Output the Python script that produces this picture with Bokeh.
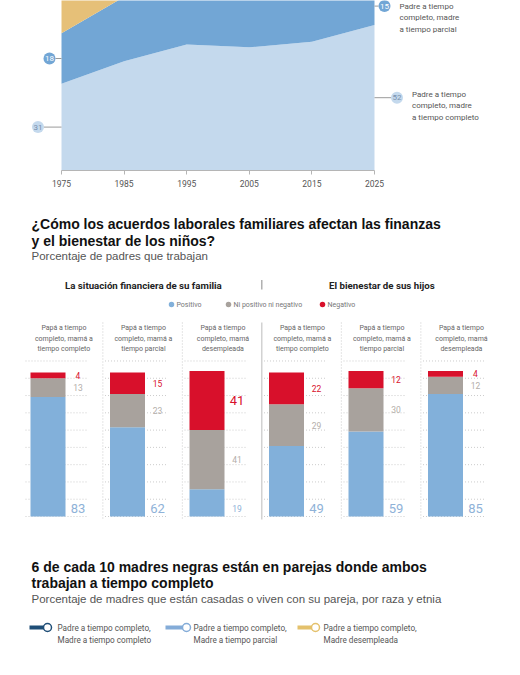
from bokeh.plotting import figure
from bokeh.layouts import column
from bokeh.models import Range1d, FixedTicker
from bokeh.core.properties import value
from bokeh.embed import file_html
from bokeh.resources import INLINE

# ---------------- data ----------------
years = [1975, 1985, 1995, 2005, 2015, 2025]
ft_ft = [31, 39, 45, 44, 46, 52]        # padre t. completo, madre t. completo
ft_pt = [18, 23, 20, 21, 20, 15]        # padre t. completo, madre t. parcial
ft_un = [45, 30, 26, 25, 24, 21]        # padre t. completo, madre desempleada
area_names = [("Padre a tiempo", "completo, madre", "a tiempo completo"),
              ("Padre a tiempo", "completo, madre", "a tiempo parcial")]

title2 = ["¿Cómo los acuerdos laborales familiares afectan las finanzas",
          "y el bienestar de los niños?"]
subtitle2 = "Porcentaje de padres que trabajan"
panels = ["La situación financiera de su familia", "El bienestar de sus hijos"]
legend2 = ["Positivo", "Ni positivo ni negativo", "Negativo"]
arrangements = [("Papá a tiempo", "completo, mamá a", "tiempo completo"),
                ("Papá a tiempo", "completo, mamá a", "tiempo parcial"),
                ("Papá a tiempo", "completo, mamá", "desempleada")]
finance_pos = [83, 62, 19]
finance_neu = [13, 23, 41]
finance_neg = [4, 15, 41]
kids_pos = [49, 59, 85]
kids_neu = [29, 30, 12]
kids_neg = [22, 12, 4]
grid_vals = [0, 12, 24, 36, 48, 60, 72, 84, 96, 108]

title3 = ["6 de cada 10 madres negras están en parejas donde ambos",
          "trabajan a tiempo completo"]
subtitle3 = "Porcentaje de madres que están casadas o viven con su pareja, por raza y etnia"
legend3 = [("Padre a tiempo completo,", "Madre a tiempo completo"),
           ("Padre a tiempo completo,", "Madre a tiempo parcial"),
           ("Padre a tiempo completo,", "Madre desempleada")]

# ---------------- styles ----------------
NARROW = "Roboto"
SANS = "Liberation Sans"
C_LIGHT = "#c4d9ed"
C_MID = "#72a6d5"
C_YEL = "#e6c078"
C_POS = "#82b0da"
C_NEU = "#a8a29d"
C_NEG = "#d8102b"
L3_COLORS = ["#1f4e77", "#84acd8", "#e4c16c"]


def txt(p, x, y, s, size, color="#555555", font=NARROW, style="normal",
        align="left", baseline="middle"):
    p.text(x=[x], y=[y], text=[s], text_font=value(font), text_font_size=size,
           text_font_style=style, text_color=color, text_align=align,
           text_baseline=baseline)


W = 504

# ================= figure 1 : stacked area =================
ppy = (374 - 61) / 50.0
x1s = 1975 - 61 / ppy
x1e = x1s + W / ppy
ppu1 = 2.8
H1, B1 = 200, 30
y1e = (H1 - B1) / ppu1


def X1(px):
    return x1s + px / ppy


p1 = figure(width=W, height=H1, x_range=Range1d(x1s, x1e), y_range=Range1d(0, y1e),
            output_backend="svg", toolbar_location=None, y_axis_location=None,
            min_border_left=0, min_border_right=0, min_border_top=0,
            min_border_bottom=B1, outline_line_color=None)
p1.grid.visible = False

c1 = [a + b for a, b in zip(ft_ft, ft_pt)]
c2 = [a + b for a, b in zip(c1, ft_un)]
p1.varea(x=years, y1=[0] * len(years), y2=ft_ft, fill_color=C_LIGHT)
p1.varea(x=years, y1=ft_ft, y2=c1, fill_color=C_MID)
p1.varea(x=years, y1=c1, y2=c2, fill_color=C_YEL)

ax = p1.xaxis[0]
ax.ticker = FixedTicker(ticks=years)
ax.bounds = (years[0], years[-1])
ax.axis_line_color = "#b5b5b5"
ax.major_tick_line_color = "#b5b5b5"
ax.major_tick_out = 4
ax.major_tick_in = 0
ax.minor_tick_line_color = None
ax.major_label_text_font = NARROW
ax.major_label_text_font_size = "8.5px"
ax.major_label_text_color = "#555555"
ax.major_label_standoff = 5

# value bubbles
y_ff0 = ft_ft[0] / 2.0
y_pt0 = ft_ft[0] + ft_pt[0] / 2.0
y_ff1 = ft_ft[-1] / 2.0
y_pt1 = min(ft_ft[-1] + ft_pt[-1] / 2.0, y1e - 2)
bubbles = [
    (X1(37.5), y_ff0, ft_ft[0], C_LIGHT, "#7890ad", years[0], X1(43.5)),
    (X1(49), y_pt0, ft_pt[0], C_MID, "white", years[0], X1(55)),
    (X1(384), y_pt1, ft_pt[-1], C_MID, "white", years[-1], X1(378)),
    (X1(396.5), y_ff1, ft_ft[-1], C_LIGHT, "#7890ad", years[-1], X1(390.5)),
]
for bx, by, v, fc, tc, x0, xe in bubbles:
    p1.segment(x0=[x0], y0=[by], x1=[xe], y1=[by], line_color="#9a9a9a", line_width=1)
    p1.scatter(x=[bx], y=[by], size=12, fill_color=fc, line_color=None)
    txt(p1, bx, by, str(v), "8px", color=tc, align="center")

lh1 = 11.7 / ppu1
for i, ln in enumerate(area_names[1]):
    txt(p1, X1(399), y_pt1 - i * lh1, ln, "8px")
for i, ln in enumerate(area_names[0]):
    txt(p1, X1(411.5), y_ff1 + 1.3 - i * lh1, ln, "8px")

# ================= figure 2 : stacked bars =================
cw = 79.5
ppu2 = 1.44
H2 = 345
BX0 = 47.5


def X2(px):
    return (px - BX0) / cw


def Y2(py):
    return (516 - py) / ppu2


p2 = figure(width=W, height=H2, x_range=Range1d(X2(0), X2(W)),
            y_range=Range1d(Y2(200 + H2), Y2(200)), output_backend="svg",
            toolbar_location=None, x_axis_location=None, y_axis_location=None,
            min_border=0, outline_line_color=None)
p2.grid.visible = False

pos = finance_pos + kids_pos
neu = finance_neu + kids_neu
neg = finance_neg + kids_neg
xs = list(range(len(pos)))
heads = arrangements + arrangements

# dotted grid per column
gx0, gx1, gy = [], [], []
for i in xs:
    for g in grid_vals:
        gx0.append(i - 0.283)
        gx1.append(i + 0.51)
        gy.append(g)
p2.segment(x0=gx0, y0=gy, x1=gx1, y1=gy, line_color="#cccccc", line_width=1,
           line_dash="1 2")

# column separators
for i in xs[:-1]:
    mid = (i == 2)
    p2.segment(x0=[i + 0.69], y0=[Y2(322)], x1=[i + 0.69], y1=[Y2(519)],
               line_color="#bbbbbb" if mid else "#cccccc", line_width=1,
               line_dash="solid" if mid else "1 2")

b_neu = pos
t_neu = [a + b for a, b in zip(pos, neu)]
t_neg = [a + b for a, b in zip(t_neu, neg)]
bw = 35 / cw
p2.vbar(x=xs, width=bw, bottom=0, top=pos, fill_color=C_POS, line_color=None)
p2.vbar(x=xs, width=bw, bottom=b_neu, top=t_neu, fill_color=C_NEU, line_color=None)
p2.vbar(x=xs, width=bw, bottom=t_neu, top=t_neg, fill_color=C_NEG, line_color=None)

lx = 30 / cw
for i in xs:
    big_p = "13px" if pos[i] >= 40 else "8.5px"
    txt(p2, i + lx, Y2(508), str(pos[i]), big_p, color="#8fb2d8", align="center")
    txt(p2, i + lx, (b_neu[i] + t_neu[i]) / 2.0, str(neu[i]), "8.5px",
        color="#b3aea9", align="center")
    big_n = "13px" if neg[i] >= 40 else "8.5px"
    txt(p2, i + lx, (t_neu[i] + t_neg[i]) / 2.0, str(neg[i]), big_n,
        color=C_NEG, align="center")
    for k, ln in enumerate(heads[i]):
        txt(p2, i + 0.2, Y2(327.5 + 10.5 * k), ln, "7px", color="#666666",
            align="center")

# titles
txt(p2, X2(31), Y2(223), title2[0], "14px", color="#111111", font=SANS, style="bold")
txt(p2, X2(31), Y2(240), title2[1], "14px", color="#111111", font=SANS, style="bold")
txt(p2, X2(31), Y2(255.5), subtitle2, "11.5px", color="#555555", font=SANS)

# panel headers
txt(p2, 1 + 0.2, Y2(284.5), panels[0], "9.7px", color="#222222", style="bold",
    align="center")
txt(p2, 4 + 0.2, Y2(284.5), panels[1], "9.7px", color="#222222", style="bold",
    align="center")
p2.segment(x0=[2.69], y0=[Y2(279.5)], x1=[2.69], y1=[Y2(289)], line_color="#888888",
           line_width=1)

# legend
for lxp, lab, col in zip([171, 228, 322], legend2, [C_POS, C_NEU, C_NEG]):
    p2.scatter(x=[X2(lxp)], y=[Y2(304)], size=5.5, fill_color=col, line_color=None)
    txt(p2, X2(lxp + 5), Y2(304), lab, "7px", color="#777777")

# ================= figure 3 : heading + legend =================
Y3 = 200 + H2
H3 = 659 - Y3
p3 = figure(width=W, height=H3, x_range=Range1d(0, W), y_range=Range1d(Y3 + H3, Y3),
            output_backend="svg", toolbar_location=None, x_axis_location=None,
            y_axis_location=None, min_border=0, outline_line_color=None)
p3.grid.visible = False

txt(p3, 31, 566.5, title3[0], "14px", color="#111111", font=SANS, style="bold")
txt(p3, 31, 582.5, title3[1], "14px", color="#111111", font=SANS, style="bold")
txt(p3, 31, 598.5, subtitle3, "11.5px", color="#555555", font=SANS)

for (l0, l1, tx), lab, col in zip([(29, 44, 57), (165, 183, 193), (297, 312, 323)],
                                  legend3, L3_COLORS):
    p3.segment(x0=[l0], y0=[627], x1=[l1], y1=[627], line_color=col, line_width=4)
    p3.scatter(x=[l1 + 3], y=[627], size=8, fill_color="white", line_color=col,
               line_width=1.5)
    txt(p3, tx, 627, lab[0], "8.2px", color="#555555")
    txt(p3, tx, 639, lab[1], "8.2px", color="#555555")

layout = column(p1, p2, p3, spacing=0)
open("out.html", "w").write(file_html(layout, INLINE))
